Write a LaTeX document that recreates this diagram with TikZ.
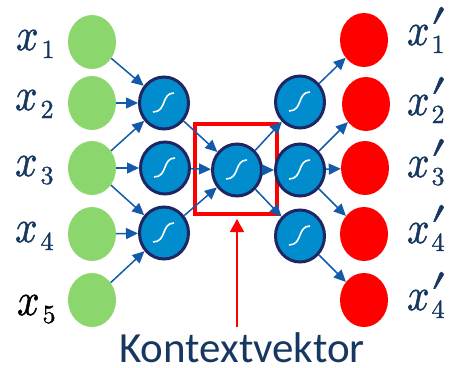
\documentclass[tikz,border=0pt]{standalone}
\usepackage{fontspec}
\usepackage{graphicx}
\setsansfont{Carlito}
\newfontfamily\lmm{Latin Modern Math}[FakeBold=1.2]
\usetikzlibrary{shapes.geometric,arrows.meta}
\definecolor{ingreen}{RGB}{140,214,110}
\definecolor{nblue}{RGB}{0,140,205}
\definecolor{nnavy}{RGB}{30,38,100}
\definecolor{ablue}{RGB}{20,90,170}
\definecolor{labnavy}{RGB}{22,55,95}
\newcommand\xglyph{\scalebox{0.85}[1]{\fontsize{46}{50}\selectfont\lmm\symbol{"1D465}}}
\newcommand\xsub[1]{\raisebox{-8pt}{\fontsize{26}{27}\selectfont\lmm #1}}
\newcommand\xl[1]{\xglyph\kern3pt\xsub{#1}}
\newcommand\xp[1]{\xglyph\kern1pt\rlap{\raisebox{-1pt}{\fontsize{52}{52}\selectfont\lmm\symbol{"2032}}}\kern1pt\xsub{#1}}
\tikzset{
  inp/.style={ellipse, fill=ingreen, minimum width=48pt, minimum height=54pt, inner sep=0pt},
  outp/.style={ellipse, fill=red, minimum width=48pt, minimum height=54pt, inner sep=0pt},
  neuron/.style={ellipse, fill=nblue, draw=nnavy, line width=3pt, minimum width=49pt, minimum height=52pt, inner sep=0pt,
    path picture={\draw[white, line width=1.6pt, shift={(path picture bounding box.center)}]
      (-11,9) .. controls (3,9) and (-3,-10) .. (10,-10);}},
  conn/.style={draw=ablue, line width=1.5pt, -{Triangle[length=12pt,width=11pt]}},
  redarrow/.style={draw=red, line width=1.5pt, -{Triangle[length=13pt,width=14pt]}},
  lab/.style={anchor=base west, inner sep=0pt, text=labnavy},
}
\begin{document}
\begin{tikzpicture}[x=1pt,y=-1pt]
\useasboundingbox (0,0) rectangle (449,367);
% inputs
\node[inp] (g1) at (92,42) {};
\node[inp] (g2) at (92,103) {};
\node[inp] (g3) at (92,168) {};
\node[inp] (g4) at (92,234) {};
\node[inp] (g5) at (92,300) {};
% outputs
\node[outp] (r1) at (364,40) {};
\node[outp] (r2) at (366,104) {};
\node[outp] (r3) at (365,168) {};
\node[outp] (r4) at (364,234) {};
\node[outp] (r5) at (364,300) {};
% context box
\node[draw=red, line width=4pt, minimum width=82pt, minimum height=90pt, inner sep=0pt] (box) at (236,169) {};
% neurons
\node[neuron] (e1) at (164,103) {};
\node[neuron] (e2) at (165,168) {};
\node[neuron] (e3) at (164,233) {};
\node[neuron] (m) at (237,170) {};
\node[neuron] (d1) at (300,102) {};
\node[neuron] (d2) at (300,170) {};
\node[neuron] (d3) at (300,236) {};
% connections
\draw[conn] (g1) -- (e1);
\draw[conn] (g2) -- (e1);
\draw[conn] (g3) -- (e1);
\draw[conn] (g3) -- (e2);
\draw[conn] (g3) -- (e3);
\draw[conn] (g4) -- (e3);
\draw[conn] (g5) -- (e3);
\draw[conn] (e1) -- (m);
\draw[conn] (e2) -- (m);
\draw[conn] (e3) -- (m);
\draw[conn] (m) -- (d1);
\draw[conn] (m) -- (d2);
\draw[conn] (m) -- (d3);
\draw[conn] (d1) -- (r1);
\draw[conn] (d2) -- (r2);
\draw[conn] (d2) -- (r3);
\draw[conn] (d2) -- (r4);
\draw[conn] (d3) -- (r5);
% labels
\node[lab] (l1) at (16,50) {\xl{1}};
\node[lab] (l2) at (15,110) {\xl{2}};
\node[lab] (l3) at (15,176) {\xl{3}};
\node[lab] (l4) at (15,242) {\xl{4}};
\node[lab, text=black] (l5) at (17,315) {\xl{5}};
\node[lab] (o1) at (407,45) {\xp{1}};
\node[lab] (o2) at (407,115) {\xp{2}};
\node[lab] (o3) at (407,177) {\xp{3}};
\node[lab] (o4) at (407,243) {\xp{4}};
\node[lab] (o5) at (407,310) {\xp{4}};
% Kontextvektor
\node[anchor=base, inner sep=0pt, text depth=0pt, text=labnavy, font=\sffamily\fontsize{43}{50}\selectfont] (kv) at (242,362) {Kontextvektor};
\coordinate (kt) at (237,327);
\draw[redarrow, shorten >=3pt] (kt) -- (box.south -| kt);
\end{tikzpicture}
\end{document}
